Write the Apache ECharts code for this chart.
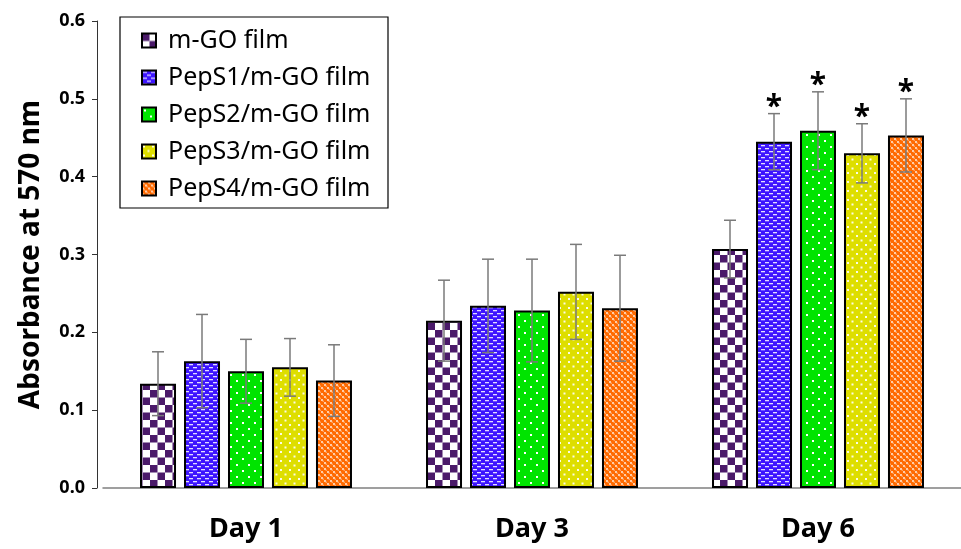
<!DOCTYPE html>
<html>
<head>
<meta charset="utf-8">
<script src="https://cdn.jsdelivr.net/npm/echarts@6/dist/echarts.min.js"></script>
<style>
  html, body { margin: 0; padding: 0; background: #fff; }
  #chart { width: 961px; height: 549px; }
</style>
</head>
<body>
<div id="chart"></div>
<script>
var days = ['Day 1', 'Day 3', 'Day 6'];
var names = ['m-GO film', 'PepS1/m-GO film', 'PepS2/m-GO film', 'PepS3/m-GO film', 'PepS4/m-GO film'];

// mean values per film, Day 1 / Day 3 / Day 6
var mGO   = [0.134, 0.215, 0.307];
var pepS1 = [0.163, 0.234, 0.445];
var pepS2 = [0.150, 0.228, 0.459];
var pepS3 = [0.155, 0.252, 0.430];
var pepS4 = [0.138, 0.231, 0.453];

// standard deviations
var mGOErr   = [0.041, 0.052, 0.037];
var pepS1Err = [0.060, 0.060, 0.036];
var pepS2Err = [0.041, 0.066, 0.050];
var pepS3Err = [0.037, 0.061, 0.038];
var pepS4Err = [0.046, 0.068, 0.047];

// significance marks (1 = asterisk)
var mGOStar   = [0, 0, 0];
var pepS1Star = [0, 0, 1];
var pepS2Star = [0, 0, 1];
var pepS3Star = [0, 0, 1];
var pepS4Star = [0, 0, 1];

var yTicks = [0, 0.1, 0.2, 0.3, 0.4, 0.5, 0.6];

var means = [mGO, pepS1, pepS2, pepS3, pepS4];
var errs = [mGOErr, pepS1Err, pepS2Err, pepS3Err, pepS4Err];
var stars = [mGOStar, pepS1Star, pepS2Star, pepS3Star, pepS4Star];

var FONT = '"Noto Sans", "Open Sans", sans-serif';
var BAR_W = 36;
var STEP = 44;

// fill patterns drawn on small canvases
function tile(w, h, bg, draw) {
    var c = document.createElement('canvas');
    c.width = w; c.height = h;
    var ctx = c.getContext('2d');
    ctx.fillStyle = bg;
    ctx.fillRect(0, 0, w, h);
    ctx.fillStyle = '#fff';
    draw(ctx);
    return { image: c, repeat: 'repeat' };
}
var patterns = [
    tile(15, 15, '#fff', function (ctx) {
        ctx.fillStyle = '#4b1a6a';
        ctx.fillRect(0, 0, 7.5, 7.5);
        ctx.fillRect(7.5, 7.5, 7.5, 7.5);
    }),
    tile(8, 6, '#3d14ff', function (ctx) {
        ctx.fillStyle = 'rgba(255,255,255,0.85)';
        ctx.fillRect(1, 1, 4, 1.3);
        ctx.fillRect(5, 4, 4, 1.3);
        ctx.fillRect(-3, 4, 4, 1.3);
    }),
    tile(12, 12, '#00e400', function (ctx) {
        ctx.fillRect(2, 2, 2, 2);
        ctx.fillRect(8, 8, 2, 2);
    }),
    tile(9, 9, '#dede00', function (ctx) {
        ctx.fillStyle = 'rgba(255,255,255,0.9)';
        ctx.fillRect(1, 1, 2, 2);
        ctx.fillRect(5.5, 5.5, 2, 2);
    }),
    tile(6, 6, '#ff6a00', function (ctx) {
        ctx.fillStyle = 'rgba(255,230,210,0.8)';
        ctx.fillRect(0, 0, 2, 2);
        ctx.fillRect(3, 3, 2, 2);
        ctx.fillStyle = 'rgba(255,200,160,0.6)';
        ctx.fillRect(1.5, 1.5, 1.5, 1.5);
        ctx.fillRect(4.5, 4.5, 1.5, 1.5);
    })
];

var series = [];
names.forEach(function (name, i) {
    series.push({
        name: name,
        type: 'bar',
        barWidth: BAR_W,
        barGap: '22.2%',
        data: means[i],
        itemStyle: { color: patterns[i], borderColor: '#000', borderWidth: 2 },
        emphasis: { disabled: true }
    });
});

var errData = [];
means.forEach(function (arr, i) {
    arr.forEach(function (v, d) {
        errData.push([d, v, errs[i][d], i, stars[i][d]]);
    });
});

series.push({
    type: 'custom',
    name: 'err',
    silent: true,
    z: 10,
    data: errData,
    encode: { x: 0, y: 1 },
    renderItem: function (params, api) {
        var cat = api.value(0), v = api.value(1), e = api.value(2), s = api.value(3);
        var dx = (s - 2) * STEP;
        var top = api.coord([cat, v + e]);
        var bot = api.coord([cat, v - e]);
        var x = top[0] + dx;
        var st = { stroke: '#7a7a7a', lineWidth: 1.5 };
        var kids = [
            { type: 'line', shape: { x1: x, y1: top[1], x2: x, y2: bot[1] }, style: st },
            { type: 'line', shape: { x1: x - 6, y1: top[1], x2: x + 6, y2: top[1] }, style: st },
            { type: 'line', shape: { x1: x - 6, y1: bot[1], x2: x + 6, y2: bot[1] }, style: st }
        ];
        if (api.value(4)) {
            kids.push({
                type: 'text',
                style: {
                    x: x, y: top[1] + 9, text: '*',
                    fill: '#000', font: 'bold 30px ' + FONT,
                    align: 'center', verticalAlign: 'bottom'
                }
            });
        }
        return { type: 'group', children: kids };
    }
});

var chart = echarts.init(document.getElementById('chart'));
chart.setOption({
    animation: false,
    grid: { left: 103, right: -2, top: 21, bottom: 61 },
    legend: {
        orient: 'vertical',
        left: 136,
        top: 23,
        itemWidth: 14,
        itemHeight: 14,
        itemGap: 12,
        icon: 'rect',
        data: names,
        textStyle: { fontFamily: FONT, fontSize: 25, color: '#000', lineHeight: 25, padding: [0, 0, 0, 7] }
    },
    graphic: [{
        type: 'rect',
        shape: { x: 120, y: 17, width: 268, height: 191 },
        style: { fill: 'none', stroke: '#000', lineWidth: 1.2 },
        z: 100
    }],
    xAxis: {
        type: 'category',
        data: days,
        axisTick: { show: false },
        axisLine: { lineStyle: { color: '#808080', width: 1.5 } },
        axisLabel: { margin: 28, color: '#000', fontFamily: FONT, fontWeight: 'bold', fontSize: 27 }
    },
    yAxis: {
        type: 'value',
        min: 0,
        max: 0.6,
        interval: 0.1,
        offset: 6,
        name: 'Absorbance at 570 nm',
        nameLocation: 'middle',
        nameGap: 52,
        nameTextStyle: { color: '#000', fontFamily: FONT, fontWeight: 'bold', fontSize: 28 },
        splitLine: { show: false },
        axisLine: { show: true, lineStyle: { color: '#333', width: 1 } },
        axisTick: { show: true, length: 5, lineStyle: { color: '#333' } },
        axisLabel: {
            margin: 12, color: '#000', fontFamily: FONT, fontWeight: 'bold', fontSize: 18,
            formatter: function (v) {
                var t = yTicks.indexOf(Math.round(v * 10) / 10);
                return t >= 0 ? yTicks[t].toFixed(1) : '';
            }
        }
    },
    series: series
});
</script>
</body>
</html>
